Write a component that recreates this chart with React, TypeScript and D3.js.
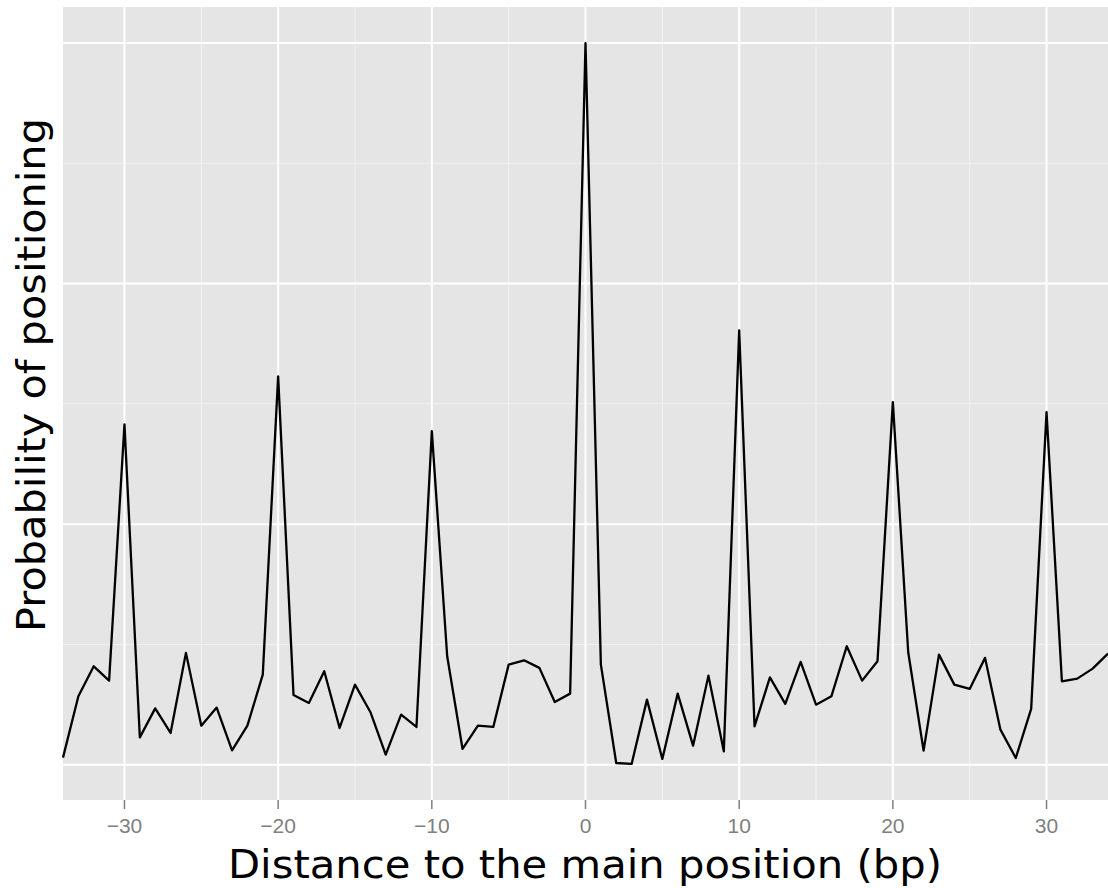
import React from "react";
import * as d3 from "d3";

const positions: number[] = [
  -34, -33, -32, -31, -30, -29, -28, -27, -26, -25, -24, -23, -22, -21, -20, -19, -18,
  -17, -16, -15, -14, -13, -12, -11, -10, -9, -8, -7, -6, -5, -4, -3, -2, -1, 0,
  1, 2, 3, 4, 5, 6, 7, 8, 9, 10, 11, 12, 13, 14, 15, 16, 17, 18, 19, 20, 21, 22, 23,
  24, 25, 26, 27, 28, 29, 30, 31, 32, 33, 34,
];

const probability: number[] = [
  0.146, 1.421, 2.045, 1.747, 7.073, 0.568, 1.171, 0.659, 2.324, 0.811, 1.186, 0.297,
  0.811, 1.872, 8.072, 1.45, 1.284, 1.941, 0.763, 1.664, 1.096, 0.208, 1.04, 0.784,
  6.934, 2.253, 0.327, 0.811, 0.784, 2.08, 2.17, 2.012, 1.304, 1.477, 15.0,
  2.08, 0.035, 0.015, 1.352, 0.119, 1.477, 0.395, 1.851, 0.277, 9.028, 0.797, 1.816,
  1.263, 2.136, 1.248, 1.421, 2.461, 1.747, 2.149, 7.537, 2.336, 0.291, 2.288, 1.664,
  1.575, 2.22, 0.728, 0.139, 1.159, 7.329, 1.733, 1.789, 1.997, 2.309,
];

const xMajorTicks: number[] = [-30, -20, -10, 0, 10, 20, 30];
const xMinorTicks: number[] = [-25, -15, -5, 5, 15, 25];
const yMajorTicks: number[] = [0, 5, 10, 15];
const yMinorTicks: number[] = [2.5, 7.5, 12.5];

const xTitle = "Distance to the main position (bp)";
const yTitle = "Probability of positioning";

const W = 1108;
const H = 888;
const panel = { left: 63, top: 7, right: 1108, bottom: 800 };

export default function App() {
  const data = positions.map((p, i) => ({ x: p, y: probability[i] }));
  const x = d3.scaleLinear().domain([-34, 34]).range([panel.left, panel.right]);
  const [lo, hi] = d3.extent(probability) as [number, number];
  const pad = (hi - lo) * 0.05;
  const y = d3
    .scaleLinear()
    .domain([lo - pad, hi + pad])
    .range([panel.bottom, panel.top]);
  const line = d3
    .line<{ x: number; y: number }>()
    .x((d) => x(d.x))
    .y((d) => y(d.y));

  const fmt = (v: number) => (v < 0 ? "\u2212" + Math.abs(v) : String(v));

  return (
    <svg
      width={W}
      height={H}
      style={{ position: "absolute", left: 0, top: 0, background: "#ffffff" }}
    >
      <rect
        x={panel.left}
        y={panel.top}
        width={panel.right - panel.left}
        height={panel.bottom - panel.top}
        fill="#e5e5e5"
      />
      {yMinorTicks.map((t) => (
        <line
          key={"ym" + t}
          x1={panel.left}
          x2={panel.right}
          y1={y(t)}
          y2={y(t)}
          stroke="#f2f2f2"
          strokeWidth={1}
        />
      ))}
      {xMinorTicks.map((t) => (
        <line
          key={"xm" + t}
          x1={x(t)}
          x2={x(t)}
          y1={panel.top}
          y2={panel.bottom}
          stroke="#f2f2f2"
          strokeWidth={1}
        />
      ))}
      {yMajorTicks.map((t) => (
        <line
          key={"yM" + t}
          x1={panel.left}
          x2={panel.right}
          y1={y(t)}
          y2={y(t)}
          stroke="#ffffff"
          strokeWidth={2}
        />
      ))}
      {xMajorTicks.map((t) => (
        <line
          key={"xM" + t}
          x1={x(t)}
          x2={x(t)}
          y1={panel.top}
          y2={panel.bottom}
          stroke="#ffffff"
          strokeWidth={2}
        />
      ))}
      <path
        d={line(data) || ""}
        fill="none"
        stroke="#000000"
        strokeWidth={2.3}
        strokeLinejoin="round"
      />
      {xMajorTicks.map((t) => (
        <g key={"xt" + t}>
          <line
            x1={x(t)}
            x2={x(t)}
            y1={panel.bottom}
            y2={panel.bottom + 9}
            stroke="#7f7f7f"
            strokeWidth={1.5}
          />
          <text
            x={x(t)}
            y={833}
            textAnchor="middle"
            fill="#7f7f7f"
            fontSize={21}
            fontFamily="'Liberation Sans', Arial, sans-serif"
          >
            {fmt(t)}
          </text>
        </g>
      ))}
      <text
        x={585}
        y={878}
        textAnchor="middle"
        fill="#000000"
        fontSize={39}
        textLength={714}
        lengthAdjust="spacingAndGlyphs"
        fontFamily="'DejaVu Sans', Verdana, sans-serif"
      >
        {xTitle}
      </text>
      <text
        transform={`translate(45, ${(118 + 632) / 2}) rotate(-90)`}
        textAnchor="middle"
        fill="#000000"
        fontSize={39}
        textLength={514}
        lengthAdjust="spacingAndGlyphs"
        fontFamily="'DejaVu Sans', Verdana, sans-serif"
      >
        {yTitle}
      </text>
    </svg>
  );
}
